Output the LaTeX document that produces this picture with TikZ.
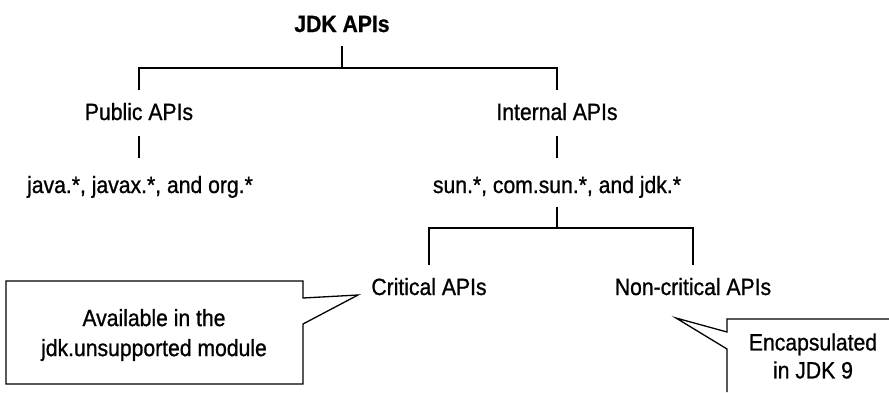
\documentclass[tikz,border=0pt]{standalone}
\usepackage{fontspec}
\setmainfont[FakeStretch=0.9, FakeBold=0.9]{Liberation Sans}
\usepackage{tikz}

\begin{document}
\begin{tikzpicture}[x=1pt, y=-1pt, line width=1.3pt,
  every node/.style={inner sep=0pt, anchor=base, font=\fontsize{23.5}{30}\selectfont},
  tier/.style={text height=29pt, text depth=15pt},
  pkg/.style={text height=34pt, text depth=13pt}]
\useasboundingbox (0,0) rectangle (889,392);

% Tree labels
\node[text depth=13pt, font=\fontsize{23.5}{30}\selectfont\bfseries] (jdk) at (342,32) {JDK APIs};
\node[tier] (pub) at (139,120) {Public APIs};
\node[tier] (int) at (557,120) {Internal APIs};
\node[pkg] (pubpkg) at (140,193) {java.*, javax.*, and org.*};
\node[pkg] (intpkg) at (557,193) {sun.*, com.sun.*, and jdk.*};
\node[tier] (crit) at (429,295) {Critical APIs};
\node[tier] (noncrit) at (693,295) {Non-critical APIs};

% Branches
\coordinate (split1) at (0,68);
\coordinate (split2) at (0,228);
\draw (jdk.south) -- (jdk.south |- split1);
\draw (pub.north) |- (split1 -| int.north) -- (int.north);
\draw (pub.south) -- (pub.south |- pubpkg.north);
\draw (int.south) -- (int.south |- intpkg.north);
\draw (intpkg.south) -- (intpkg.south |- split2);
\draw (crit.north) |- (split2 -| noncrit.north) -- (noncrit.north);

% Callout for critical APIs
\coordinate (tipA) at (358,295);
\draw (303,298) -- (tipA) -- (303,324) -- (303,384) -- (6,384) -- (6,281) -- (303,281) -- cycle;
\node[anchor=center, align=center] (avail) at (154,335) {Available in the\\jdk.unsupported module};

% Callout for non-critical APIs (runs off the edge)
\coordinate (tipB) at (676,318);
\draw (889,319) -- (727,319) -- (727,332) -- (tipB) -- (727,349) -- (727,392);
\node[anchor=center, align=center] (encap) at (813,356) {Encapsulated\\[-2pt]in JDK 9};

\end{tikzpicture}
\end{document}
